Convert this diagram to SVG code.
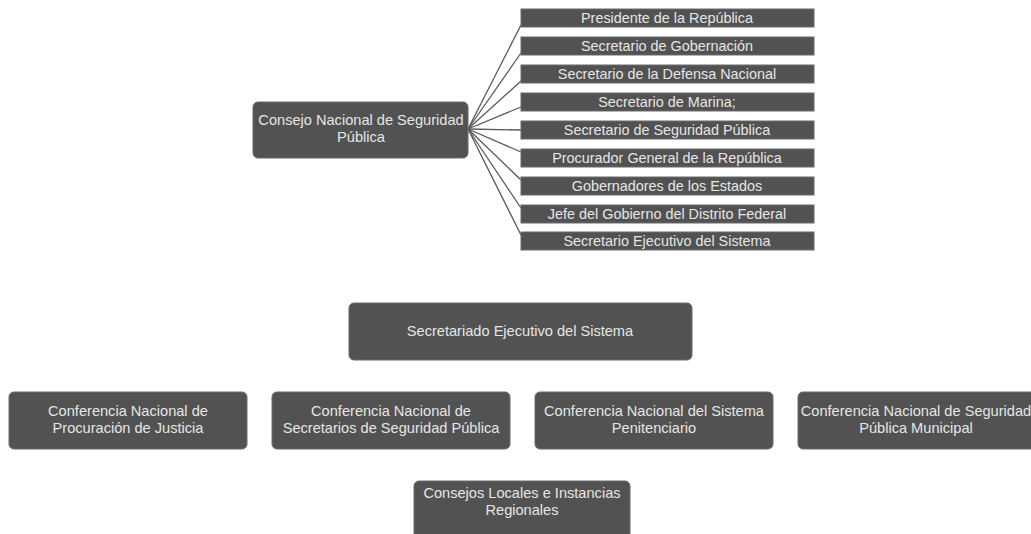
<svg xmlns="http://www.w3.org/2000/svg" width="1031" height="534" viewBox="0 0 1031 534">
<style>
.box{fill:#525252;stroke:#6a6a6a;stroke-width:1}
.t{font-family:"Liberation Sans",Arial,sans-serif;fill:#e6e6e6;text-anchor:middle}
.s{font-size:14.4px}
.b{font-size:14.6px}
.c{stroke:#5a5a5a;stroke-width:1.3;fill:none}
</style>
<rect width="1031" height="534" fill="#ffffff"/>
<g id="connectors">
<line class="c" x1="468" y1="129" x2="521" y2="25"/>
<line class="c" x1="468" y1="129" x2="521" y2="53"/>
<line class="c" x1="468" y1="129" x2="521" y2="81"/>
<line class="c" x1="468" y1="129" x2="521" y2="107"/>
<line class="c" x1="468" y1="129" x2="521" y2="130"/>
<line class="c" x1="468" y1="129" x2="521" y2="152"/>
<line class="c" x1="468" y1="129" x2="521" y2="180"/>
<line class="c" x1="468" y1="129" x2="521" y2="208"/>
<line class="c" x1="468" y1="129" x2="521" y2="235"/>
</g>
<g id="consejo">
<rect class="box" x="253" y="102" width="215" height="56" rx="5"/>
<text class="t b" x="361" y="125">Consejo Nacional de Seguridad</text>
<text class="t b" x="361" y="142">Pública</text>
</g>
<g id="m1"><rect class="box" x="521" y="9" width="293" height="18"/><text class="t s" x="667" y="23">Presidente de la República</text></g>
<g id="m2"><rect class="box" x="521" y="37" width="293" height="18"/><text class="t s" x="667" y="51">Secretario de Gobernación</text></g>
<g id="m3"><rect class="box" x="521" y="65" width="293" height="18"/><text class="t s" x="667" y="79">Secretario de la Defensa Nacional</text></g>
<g id="m4"><rect class="box" x="521" y="93" width="293" height="18"/><text class="t s" x="667" y="107">Secretario de Marina;</text></g>
<g id="m5"><rect class="box" x="521" y="121" width="293" height="18"/><text class="t s" x="667" y="135">Secretario de Seguridad Pública</text></g>
<g id="m6"><rect class="box" x="521" y="149" width="293" height="18"/><text class="t s" x="667" y="163">Procurador General de la República</text></g>
<g id="m7"><rect class="box" x="521" y="177" width="293" height="18"/><text class="t s" x="667" y="191">Gobernadores de los Estados</text></g>
<g id="m8"><rect class="box" x="521" y="205" width="293" height="18"/><text class="t s" x="667" y="219">Jefe del Gobierno del Distrito Federal</text></g>
<g id="m9"><rect class="box" x="521" y="232" width="293" height="18"/><text class="t s" x="667" y="246">Secretario Ejecutivo del Sistema</text></g>
<g id="secretariado">
<rect class="box" x="349" y="303" width="343" height="57" rx="5"/>
<text class="t b" x="520" y="336">Secretariado Ejecutivo del Sistema</text>
</g>
<g id="conf1">
<rect class="box" x="9" y="392" width="238" height="57" rx="5"/>
<text class="t b" x="128" y="416">Conferencia Nacional de</text>
<text class="t b" x="128" y="433">Procuración de Justicia</text>
</g>
<g id="conf2">
<rect class="box" x="272" y="392" width="238" height="57" rx="5"/>
<text class="t b" x="391" y="416">Conferencia Nacional de</text>
<text class="t b" x="391" y="433">Secretarios de Seguridad Pública</text>
</g>
<g id="conf3">
<rect class="box" x="535" y="392" width="238" height="57" rx="5"/>
<text class="t b" x="654" y="416">Conferencia Nacional del Sistema</text>
<text class="t b" x="654" y="433">Penitenciario</text>
</g>
<g id="conf4">
<rect class="box" x="798" y="392" width="238" height="57" rx="5"/>
<text class="t b" x="916" y="416">Conferencia Nacional de Seguridad</text>
<text class="t b" x="916" y="433">Pública Municipal</text>
</g>
<g id="consejos">
<rect class="box" x="414" y="481" width="216" height="60" rx="5"/>
<text class="t b" x="522" y="498">Consejos Locales e Instancias</text>
<text class="t b" x="522" y="515">Regionales</text>
</g>
</svg>
